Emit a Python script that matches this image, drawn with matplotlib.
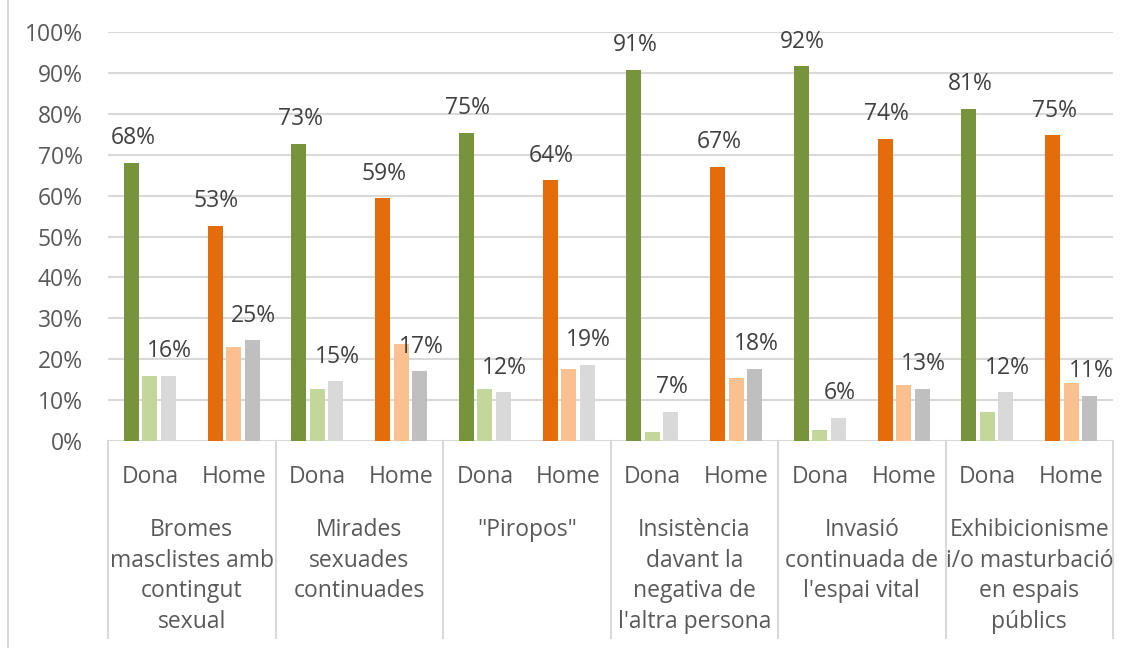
import matplotlib
matplotlib.use("Agg")
import matplotlib.pyplot as plt
import numpy as np

plt.rcParams["font.family"] = ["Open Sans", "DejaVu Sans"]

# categories (multi-line, as in the original axis)
categories = [
    "Bromes\nmasclistes amb\ncontingut\nsexual",
    "Mirades\nsexuades\ncontinuades",
    "\"Piropos\"",
    "Insistència\ndavant la\nnegativa de\nl'altra persona",
    "Invasió\ncontinuada de\nl'espai vital",
    "Exhibicionisme\ni/o masturbació\nen espais\npúblics",
]
groups = ["Dona", "Home"]

# values in %
dona_main = [68.0, 72.7, 75.4, 90.8, 91.6, 81.2]
dona_second = [15.9, 12.8, 12.8, 2.3, 2.8, 7.2]
dona_third = [16.0, 14.6, 11.9, 7.2, 5.7, 11.9]
home_main = [52.6, 59.4, 63.7, 67.1, 73.9, 74.7]
home_second = [22.9, 23.6, 17.7, 15.3, 13.6, 14.3]
home_third = [24.6, 17.1, 18.7, 17.7, 12.8, 11.1]

dona_colors = ["#77933C", "#C4D79B", "#D9D9D9"]
home_colors = ["#E46C0A", "#FAC090", "#BFBFBF"]
home_third_colors = ["#BFBFBF", "#BFBFBF", "#D9D9D9", "#BFBFBF", "#BFBFBF", "#BFBFBF"]

W, H = 1136, 648
fig = plt.figure(figsize=(W / 100, H / 100), dpi=100)
ax = fig.add_axes([108 / W, (H - 441) / H, 1005 / W, 409 / H])

text_color = "#595959"
grid_color = "#D9D9D9"
fs = 16.5
bar_w = 0.18
step = 0.221

for c in range(len(categories)):
    for g, (vals, cols) in enumerate([
        ((dona_main[c], dona_second[c], dona_third[c]), dona_colors),
        ((home_main[c], home_second[c], home_third[c]), home_colors[:2] + [home_third_colors[c]]),
    ]):
        center = 2 * c + g + 0.5
        for k, (v, col) in enumerate(zip(vals, cols)):
            x = center + (k - 1) * step
            ax.bar(x, v, width=bar_w, color=col, zorder=3)
            if k != 1:
                ax.annotate(f"{round(v)}%", (x, v), xytext=(1, 9), textcoords="offset points",
                            ha="center", va="bottom", fontsize=fs, color="#404040")

ax.set_xlim(0, 12)
ax.set_ylim(0, 100)
ax.set_yticks(np.arange(0, 101, 10))
ax.set_yticklabels([f"{t}%" for t in range(0, 101, 10)], fontsize=fs, color=text_color)
ax.tick_params(axis="y", length=0, pad=18)
ax.set_xticks([])
ax.grid(axis="y", color=grid_color, linewidth=1.5, zorder=0)
for s in ax.spines.values():
    s.set_visible(False)

# category axis: separators and two-level labels
tr = ax.get_xaxis_transform()
low = -(638 - 441) / 409
for b in range(len(categories) + 1):
    ax.plot([2 * b, 2 * b], [0, low], transform=tr, color=grid_color, lw=1.5, clip_on=False)
for c, name in enumerate(categories):
    for g, gname in enumerate(groups):
        ax.text(2 * c + g + 0.5, -36 / 409, gname, transform=tr, ha="center", va="center",
                fontsize=fs, color=text_color)
    ax.text(2 * c + 1, -77 / 409, name, transform=tr, ha="center", va="top",
            fontsize=fs, color=text_color, linespacing=1.37)

# chart area left border
fig.add_artist(plt.Line2D([8 / W, 8 / W], [0, 1], color=grid_color, lw=1.5))

fig.savefig("out.png", dpi=100)
